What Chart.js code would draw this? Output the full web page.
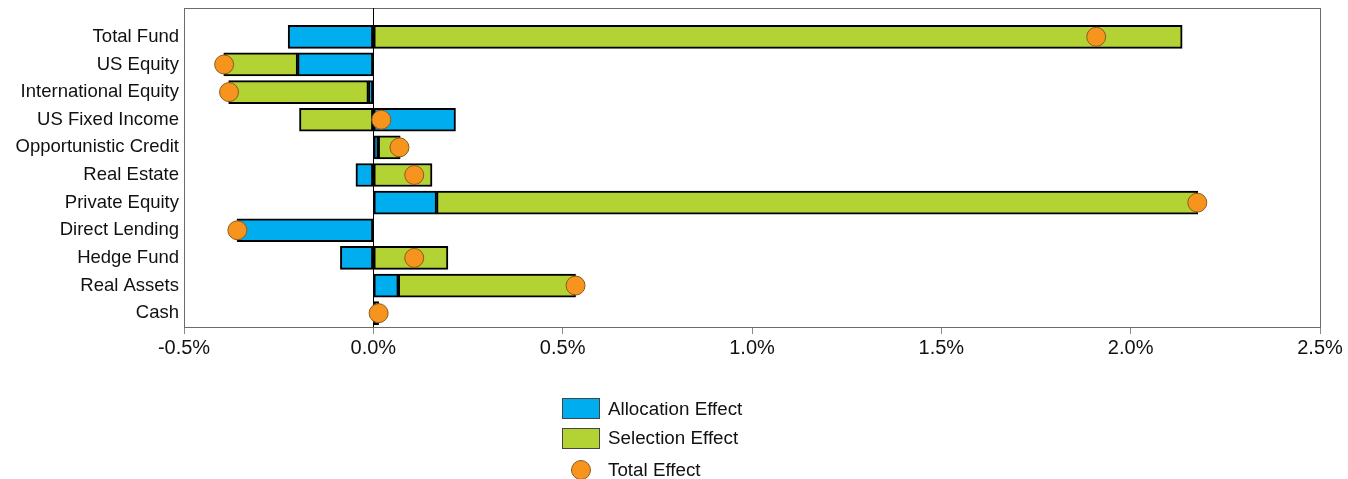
<!DOCTYPE html>
<html>
<head>
<meta charset="utf-8">
<script src="https://cdn.jsdelivr.net/npm/chart.js@4.4.0/dist/chart.umd.min.js"></script>
<style>
  body { margin: 0; background: #fff; }
  #wrap { position: relative; width: 1348px; height: 479px; }
  #legend {
    position: absolute; left: 562px; top: 394px;
    font-family: 'Liberation Sans', Arial, sans-serif;
    font-size: 18.8px; color: #111;
  }
  .row { display: flex; align-items: center; height: 29.5px; }
  .row:last-child { height: 33px; }
  .key { width: 38px; height: 20px; display: flex; align-items: center; justify-content: center; margin-right: 8px; }
  .box { width: 36px; height: 19px; border: 1px solid #444; }
  .dot { width: 18px; height: 18px; border-radius: 50%; border: 1px solid #8a5a20; }
</style>
</head>
<body>
<div id="wrap">
  <canvas id="chart" width="1348" height="479"></canvas>
  <div id="legend"></div>
</div>
<script>
const FONT = "'Liberation Sans', Arial, sans-serif";

const categories = ['Total Fund', 'US Equity', 'International Equity', 'US Fixed Income',
  'Opportunistic Credit', 'Real Estate', 'Private Equity', 'Direct Lending',
  'Hedge Fund', 'Real Assets', 'Cash'];
const allocationEffect = [-0.225, -0.200, -0.013, 0.217, 0.013, -0.046, 0.167, -0.360, -0.087, 0.066, 0.002];
const selectionEffect  = [ 2.136, -0.195, -0.369, -0.195, 0.058, 0.155, 2.010, 0.000, 0.197, 0.468, 0.012];
const totalEffect      = [ 1.909, -0.394, -0.381, 0.021, 0.069, 0.108, 2.176, -0.359, 0.108, 0.534, 0.014];
const xTicks = [-0.5, 0.0, 0.5, 1.0, 1.5, 2.0, 2.5];

const BLUE = '#00AEEF';
const GREEN = '#B3D335';
const ORANGE = '#F7941E';

// frame starts a bit above the first bar row, plus the black zero line
const framePlugin = {
  id: 'frame',
  beforeDatasetsDraw(chart) {
    const { ctx, chartArea: a, scales: { x } } = chart;
    const top = a.top - 15;
    ctx.save();
    ctx.strokeStyle = '#6b6b6b';
    ctx.lineWidth = 1;
    ctx.strokeRect(Math.round(a.left) + 0.5, top + 0.5, Math.round(a.right - a.left), Math.round(a.bottom - top));
    const zx = Math.round(x.getPixelForValue(0)) + 0.5;
    ctx.strokeStyle = '#000';
    ctx.beginPath();
    ctx.moveTo(zx, top);
    ctx.lineTo(zx, a.bottom);
    ctx.stroke();
    ctx.restore();
  }
};

new Chart(document.getElementById('chart'), {
  type: 'bar',
  data: {
    labels: categories,
    datasets: [
      {
        label: 'Allocation Effect',
        data: allocationEffect,
        backgroundColor: BLUE,
        borderColor: '#000',
        borderWidth: 2,
        borderSkipped: false,
        barThickness: 23,
        order: 2
      },
      {
        label: 'Selection Effect',
        data: selectionEffect,
        backgroundColor: GREEN,
        borderColor: '#000',
        borderWidth: 2,
        borderSkipped: false,
        barThickness: 23,
        order: 2
      },
      {
        type: 'line',
        label: 'Total Effect',
        data: totalEffect,
        stack: 'total',
        showLine: false,
        pointRadius: 9.5,
        pointHoverRadius: 9.5,
        pointBackgroundColor: ORANGE,
        pointBorderColor: '#8a5a20',
        pointBorderWidth: 1,
        order: 1
      }
    ]
  },
  options: {
    indexAxis: 'y',
    responsive: false,
    animation: false,
    layout: { padding: { top: 23, right: 28, bottom: 117, left: 0 } },
    plugins: {
      legend: { display: false },
      tooltip: { enabled: false }
    },
    scales: {
      y: {
        stacked: true,
        offset: true,
        grid: { display: false, drawTicks: false },
        border: { display: false },
        ticks: { color: '#111', padding: 5, autoSkip: false, font: { family: FONT, size: 18.5 } },
        afterFit: (s) => { s.width = 184; }
      },
      x: {
        stacked: true,
        min: -0.5,
        max: 2.5,
        afterBuildTicks: (s) => { s.ticks = xTicks.map(v => ({ value: v })); },
        grid: { drawOnChartArea: false, drawTicks: true, tickLength: 7, color: '#888' },
        border: { display: false },
        ticks: {
          color: '#111',
          padding: 2,
          maxRotation: 0,
          font: { family: FONT, size: 20 },
          callback: (v) => v.toFixed(1) + '%'
        }
      }
    }
  },
  plugins: [framePlugin]
});

const legendItems = [
  { label: 'Allocation Effect', color: BLUE, kind: 'box' },
  { label: 'Selection Effect', color: GREEN, kind: 'box' },
  { label: 'Total Effect', color: ORANGE, kind: 'dot' }
];
document.getElementById('legend').innerHTML = legendItems.map(it =>
  `<div class="row"><span class="key"><span class="${it.kind}" style="background:${it.color}"></span></span>${it.label}</div>`
).join('');
</script>
</body>
</html>
